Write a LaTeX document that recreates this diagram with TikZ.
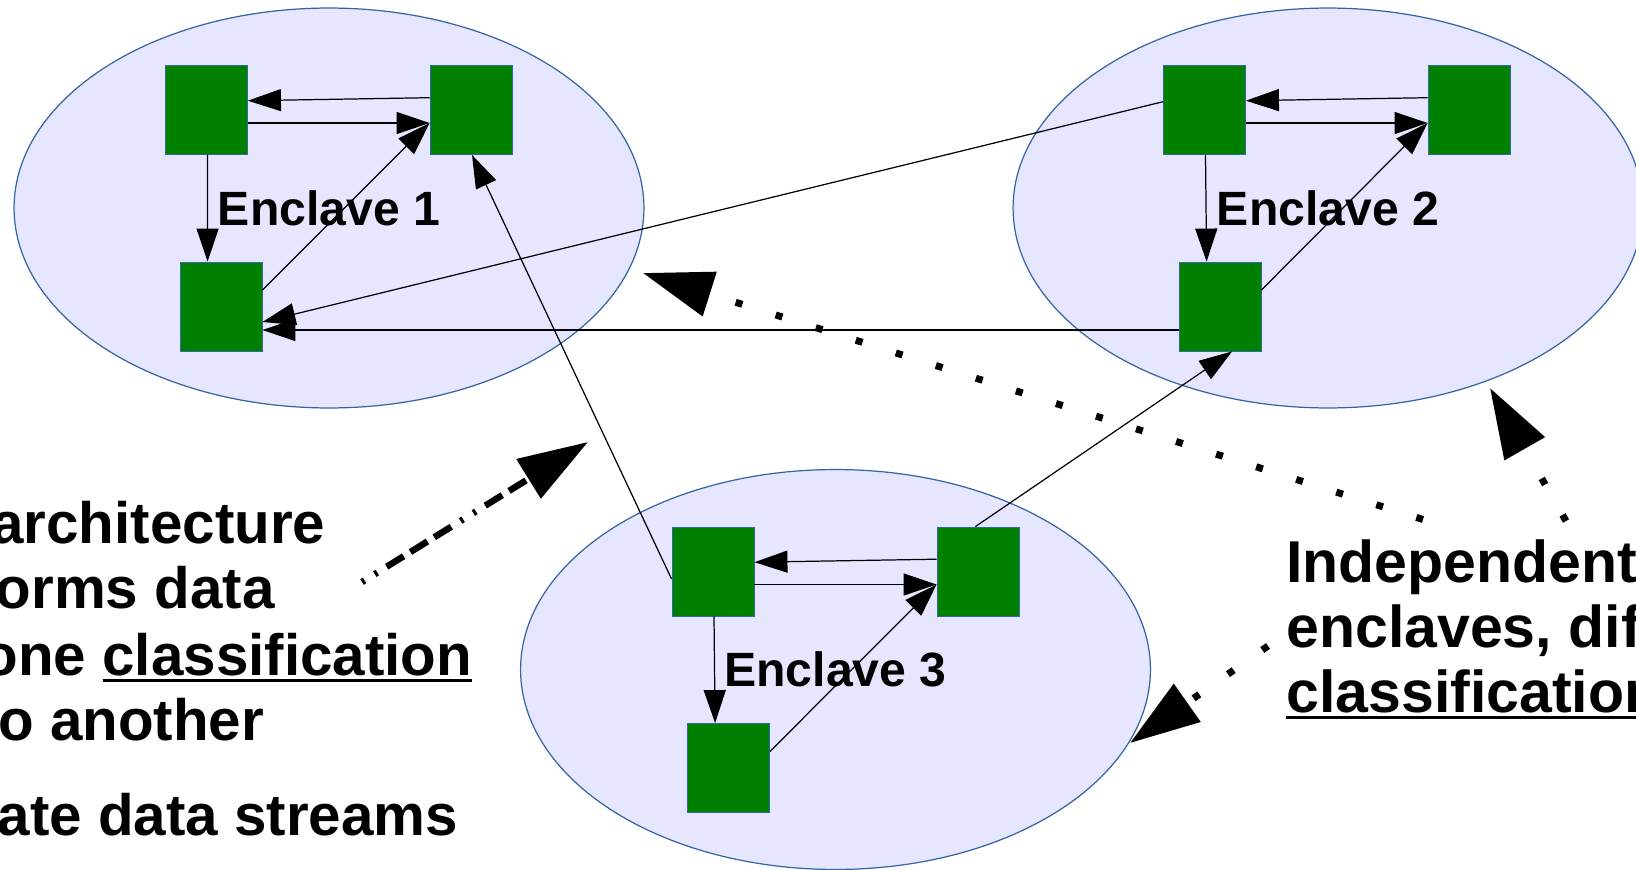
\documentclass[tikz,border=0pt]{standalone}
\usepackage{fontspec}
\setmainfont{Liberation Sans}
\usetikzlibrary{arrows.meta,shapes.geometric,calc}
\definecolor{encfill}{HTML}{E6E6FF}
\definecolor{encline}{HTML}{3465A4}
\definecolor{boxgreen}{HTML}{008000}
\newcommand{\myul}[1]{\setbox0\hbox{#1}\rlap{\rule[-4pt]{\wd0}{2pt}}\box0}
\begin{document}
\begin{tikzpicture}[x=0.02cm,y=-0.02cm,
 encl/.style={ellipse, draw=encline, line width=0.7pt, fill=encfill, minimum width=12.6cm, minimum height=8cm, inner sep=0pt, font=\fontsize{27.4pt}{32pt}\selectfont\bfseries},
 gbox/.style={rectangle, draw=encline, line width=0.5pt, fill=boxgreen, minimum width=1.64cm, minimum height=1.78cm, inner sep=0pt},
 link/.style={draw=black, line width=0.7pt, -{Triangle[length=0.66cm,width=0.44cm]}},
 bigtxt/.style={anchor=base west, inner sep=0pt, font=\fontsize{33.2pt}{37pt}\selectfont\bfseries},
 bigtxtr/.style={anchor=base west, inner sep=0pt, font=\fontsize{33.6pt}{37pt}\selectfont\bfseries},
 dotarrow/.style={line width=0.14cm, dash pattern=on 0.14cm off 0.7cm, -{Triangle[length=1.4cm,width=0.9cm]}},
 dasharrow/.style={line width=0.13cm, dash pattern=on 0.06cm off 0.24cm on 0.06cm off 0.22cm on 0.4cm off 0.16cm on 0.4cm off 0.16cm on 0.4cm off 0.22cm, -{Triangle[length=1.4cm,width=0.9cm]}}
]
\useasboundingbox (0,0) rectangle (1636,869);
% enclaves
\node[encl] (e1) at (329,208) {Enclave 1};
\node[encl] (e2) at (1328,208) {Enclave 2};
\node[encl] (e3) at (835.5,669.5) {Enclave 3};
% boxes
\node[gbox] (a1) at (206.5,110) {};
\node[gbox] (b1) at (471,110) {};
\node[gbox] (c1) at (221,306.5) {};
\node[gbox] (a2) at (1204.5,110) {};
\node[gbox] (b2) at (1469,110) {};
\node[gbox] (c2) at (1220,306.5) {};
\node[gbox] (a3) at (713,571.5) {};
\node[gbox] (b3) at (978,571.5) {};
\node[gbox] (c3) at (728.5,768) {};
% inner connectors
\foreach \i in {1,2,3} {
 \draw[link] ($(b\i.west)+(0,-12.3)$) -- ($(a\i.east)+(0,-9.3)$);
 \draw[link] ($(a\i.east)+(0,13)$) -- ($(b\i.west)+(0,13)$);
 \draw[link] ($(a\i.south)+(1,0)$) -- ($(c\i.north)+(-13.4,0)$);
 \draw[link] ($(c\i.east)+(0,-16.5)$) -- ($(b\i.west)+(0,13)$);
}
% inter-enclave connectors
\draw[link] ($(a2.west)+(0,-8.3)$) -- ($(c1.east)+(0,15.5)$);
\draw[link] ($(c2.west)+(0,23.5)$) -- ($(c1.east)+(0,23.5)$);
\draw[link] ($(a3.west)+(0,7.5)$) -- ($(b1.south)+(1,0)$);
\draw[link] ($(b3.north)+(-2.6,0)$) -- ($(c2.south)+(12,0)$);
% texts
\node[bigtxt] (l1) at (-9,543) {architecture};
\node[bigtxt] (l2) at (-4.6,608) {orms data};
\node[bigtxt] (l3) at (-17.7,675) {one \myul{classification}};
\node[bigtxt] (l4) at (-2,740) {o another};
\node[bigtxt] (l5) at (-2.5,835) {ate data streams};
\node[bigtxtr] (t1) at (1286,582) {Independent};
\node[bigtxtr] (t2) at (1286,647) {enclaves, dif};
\node[bigtxtr] (t3) at (1286,712) {\myul{classification}};
% pointer arrows
\coordinate (p1) at (362,582); \coordinate (p2) at (588,442);
\coordinate (q1) at (1423,519.5); \coordinate (q2) at (643,273);
\coordinate (r1) at (1566,521); \coordinate (r2) at (1490,388);
\coordinate (s1) at (1268,646); \coordinate (s2) at (1130,743);
\draw[dasharrow] (p1) -- (p2);
\draw[dotarrow] (q1) -- (q2);
\draw[dotarrow] (r1) -- (r2);
\draw[dotarrow] (s1) -- (s2);
\end{tikzpicture}
\end{document}
